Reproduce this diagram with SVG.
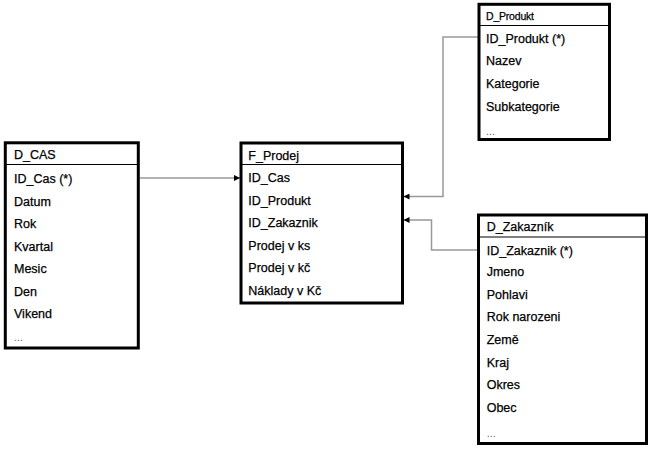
<svg xmlns="http://www.w3.org/2000/svg" width="653" height="451" viewBox="0 0 653 451">
<style>
.box{fill:#fff;stroke:#000;stroke-width:3}
.sep{stroke:#000;stroke-width:1}
.t{font-family:"Liberation Sans",Arial,sans-serif;font-size:12.5px;fill:#000;stroke:#000;stroke-width:0.25}
.hs{font-size:10.5px;letter-spacing:-0.2px}
.dots{fill:#666;stroke:none;font-size:11px}
.conn{fill:none;stroke:#999;stroke-width:1.5}
</style>
<defs>
<marker id="arr" viewBox="0 0 10 10" refX="10" refY="5" markerWidth="6" markerHeight="6" markerUnits="userSpaceOnUse" orient="auto">
<path d="M0,0 L10,5 L0,10 z" fill="#000"/>
</marker>
</defs>
<rect width="653" height="451" fill="#fff"/>
<g id="connectors">
<path class="conn" d="M140,178 H240" marker-end="url(#arr)"/>
<path class="conn" d="M478,37 H443 V196.5 H403.5" marker-end="url(#arr)"/>
<path class="conn" d="M478,250 H431.5 V220 H403.5" marker-end="url(#arr)"/>
</g>
<g id="D_CAS">
<rect class="box" x="5.3" y="142.8" width="133" height="205.2"/>
<line class="sep" x1="5.3" y1="164.5" x2="138.3" y2="164.5"/>
<text class="t" x="14" y="159">D_CAS</text>
<text class="t" x="14" y="183">ID_Cas (*)</text>
<text class="t" x="14" y="205.5">Datum</text>
<text class="t" x="14" y="228">Rok</text>
<text class="t" x="14" y="250.5">Kvartal</text>
<text class="t" x="14" y="273">Mesic</text>
<text class="t" x="14" y="295.5">Den</text>
<text class="t" x="14" y="318">Vikend</text>
<text class="t dots" x="14" y="341">...</text>
</g>
<g id="F_Prodej">
<rect class="box" x="241" y="143" width="161.5" height="160"/>
<line class="sep" x1="241" y1="164.5" x2="402.5" y2="164.5"/>
<text class="t" x="248.3" y="159.5">F_Prodej</text>
<text class="t" x="248.3" y="182">ID_Cas</text>
<text class="t" x="248.3" y="204.5">ID_Produkt</text>
<text class="t" x="248.3" y="226.5">ID_Zakaznik</text>
<text class="t" x="248.3" y="249.5">Prodej v ks</text>
<text class="t" x="248.3" y="271.5">Prodej v kč</text>
<text class="t" x="248.3" y="295">Náklady v Kč</text>
</g>
<g id="D_Produkt">
<rect class="box" x="479" y="4.3" width="130.5" height="135.2"/>
<line class="sep" x1="479" y1="25.5" x2="609.5" y2="25.5"/>
<text class="t hs" x="486" y="19.5">D_Produkt</text>
<text class="t" x="486" y="43">ID_Produkt (*)</text>
<text class="t" x="486" y="65.3">Nazev</text>
<text class="t" x="486" y="87.5">Kategorie</text>
<text class="t" x="486" y="110.5">Subkategorie</text>
<text class="t dots" x="486" y="135">...</text>
</g>
<g id="D_Zakaznik">
<rect class="box" x="478.5" y="215" width="168" height="228.5"/>
<line class="sep" x1="478.5" y1="237" x2="646.5" y2="237"/>
<text class="t" x="486.7" y="230.5">D_Zakazník</text>
<text class="t" x="486.7" y="254.5">ID_Zakaznik (*)</text>
<text class="t" x="486.7" y="276.3">Jmeno</text>
<text class="t" x="486.7" y="298.8">Pohlavi</text>
<text class="t" x="486.7" y="321.3">Rok narozeni</text>
<text class="t" x="486.7" y="343.8">Země</text>
<text class="t" x="486.7" y="366.8">Kraj</text>
<text class="t" x="486.7" y="388.8">Okres</text>
<text class="t" x="486.7" y="411.8">Obec</text>
<text class="t dots" x="486.7" y="437">...</text>
</g>
</svg>
